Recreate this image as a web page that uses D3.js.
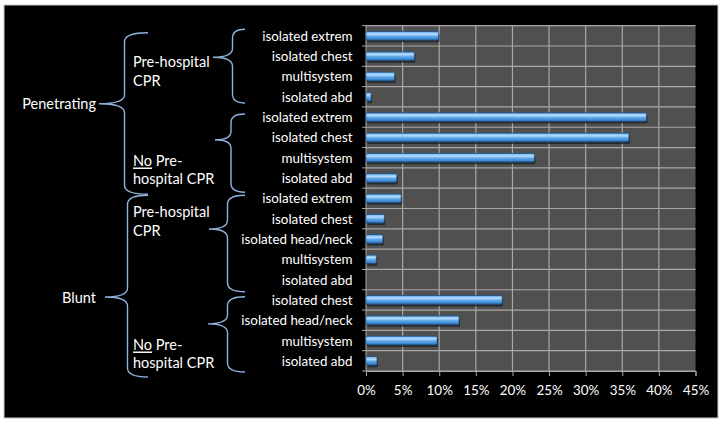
<!DOCTYPE html>
<html>
<head>
<meta charset="utf-8">
<script src="https://cdn.jsdelivr.net/npm/d3@7"></script>
<style>
  html, body { margin: 0; padding: 0; background: #ffffff; }
  svg { display: block; }
  text { font-family: Lato, "Open Sans", sans-serif; fill: #ffffff; }
</style>
</head>
<body>
<script>
// ---- data ----
const categories = [
  "isolated extrem", "isolated chest", "multisystem", "isolated abd",
  "isolated extrem", "isolated chest", "multisystem", "isolated abd",
  "isolated extrem", "isolated chest", "isolated head/neck", "multisystem", "isolated abd",
  "isolated chest", "isolated head/neck", "multisystem", "isolated abd"
];
const values = [9.9, 6.6, 3.9, 0.7, 38.3, 35.9, 23.0, 4.2, 4.8, 2.5, 2.3, 1.4, 0, 18.6, 12.7, 9.7, 1.5];
const xTicks = [0, 5, 10, 15, 20, 25, 30, 35, 40, 45];
const groupLabels = ["Penetrating", "Blunt"];
const groupRows = [[0, 7], [8, 16]];
const subgroupLabels = [["Pre-hospital", "CPR"], ["No Pre-", "hospital CPR"], ["Pre-hospital", "CPR"], ["No Pre-", "hospital CPR"]];
const subgroupRows = [[0, 3], [4, 7], [8, 12], [13, 16]];

// ---- layout ----
const W = 724, H = 425;
const plot = { left: 366, right: 695.5, top: 25.7, bottom: 371 };

const svg = d3.select("body").append("svg").attr("width", W).attr("height", H);

// frame
svg.append("rect").attr("x", 0).attr("y", 0).attr("width", W).attr("height", H).attr("fill", "#ffffff");
svg.append("rect").attr("x", 4).attr("y", 5).attr("width", 714).attr("height", 413)
  .attr("fill", "#000000").attr("stroke", "#c8c8c8").attr("stroke-width", 1);

const x = d3.scaleLinear().domain([0, 45]).range([plot.left, plot.right]);
const y = d3.scaleBand().domain(d3.range(categories.length)).range([plot.top, plot.bottom]).padding(0);
const bw = y.bandwidth();
const barH = bw * 0.44;

// defs
const defs = svg.append("defs");
const grad = defs.append("linearGradient").attr("id", "barGrad")
  .attr("x1", 0).attr("y1", 0).attr("x2", 0).attr("y2", 1);
[[0, "#2b62a0"], [0.14, "#86c4f6"], [0.32, "#b3dcff"], [0.55, "#5fa9ea"], [0.85, "#3c86cf"], [1, "#1f4c80"]]
  .forEach(([o, c]) => grad.append("stop").attr("offset", o).attr("stop-color", c));

// plot background
svg.append("rect").attr("x", plot.left).attr("y", plot.top)
  .attr("width", plot.right - plot.left).attr("height", plot.bottom - plot.top)
  .attr("fill", "#505050");

// gridlines
const grid = svg.append("g").attr("stroke", "#a8a8a8").attr("stroke-width", 1.2);
grid.selectAll("line.v").data(xTicks.filter(t => t > 0 && t < 45)).enter().append("line")
  .attr("x1", d => x(d)).attr("x2", d => x(d))
  .attr("y1", plot.top).attr("y2", plot.bottom);
const hLines = d3.range(categories.length + 1).map(i => plot.top + i * bw);
grid.selectAll("line.h").data(hLines).enter().append("line")
  .attr("x1", plot.left).attr("x2", plot.right)
  .attr("y1", d => d).attr("y2", d => d);

// left axis with ticks at band boundaries
const axisG = svg.append("g").attr("stroke", "#a8a8a8").attr("stroke-width", 1);
axisG.append("line").attr("x1", plot.left).attr("x2", plot.left).attr("y1", plot.top).attr("y2", plot.bottom);
axisG.selectAll("line.lt").data(hLines).enter().append("line")
  .attr("x1", plot.left - 4).attr("x2", plot.left).attr("y1", d => d).attr("y2", d => d);

// bottom axis
const xAxis = d3.axisBottom(x).tickValues(xTicks).tickFormat(d => d + "%").tickSize(5).tickPadding(9);
const xg = svg.append("g").attr("transform", `translate(0,${plot.bottom})`).call(xAxis);
xg.select(".domain").attr("stroke", "#a8a8a8");
xg.selectAll(".tick line").attr("stroke", "#a8a8a8");
xg.selectAll(".tick text").attr("fill", "#ffffff").attr("font-size", 13.4)
  .style("font-family", "Lato, 'Open Sans', sans-serif");

// bars
const bars = svg.append("g");
bars.selectAll("rect.shadow").data(values).enter().append("rect")
  .attr("x", x(0) + 1).attr("y", (d, i) => y(i) + (bw - barH) / 2 + 2)
  .attr("width", d => d > 0 ? Math.max(x(d) - x(0), 2) : 0)
  .attr("height", barH).attr("rx", 1.5)
  .attr("fill", "#1a1a1a").attr("opacity", 0.7);
bars.selectAll("rect.bar").data(values).enter().append("rect")
  .attr("x", x(0)).attr("y", (d, i) => y(i) + (bw - barH) / 2)
  .attr("width", d => d > 0 ? Math.max(x(d) - x(0), 2) : 0)
  .attr("height", barH).attr("rx", 1.5)
  .attr("fill", "url(#barGrad)").attr("stroke", "#1e5088").attr("stroke-width", 0.6);

// category labels
svg.append("g").selectAll("text").data(categories).enter().append("text")
  .attr("x", 352.5).attr("y", (d, i) => y(i) + bw / 2)
  .attr("text-anchor", "end").attr("dominant-baseline", "central")
  .attr("font-size", 13.4).text(d => d);

// braces
function bracePath(x1, xs, xt, top, tip, bot) {
  const r = Math.min(9, (tip - top) / 3, (bot - tip) / 3);
  return `M${x1},${top} Q${xs},${top} ${xs},${top + r}` +
    ` L${xs},${tip - r} Q${xs},${tip} ${xt},${tip}` +
    ` Q${xs},${tip} ${xs},${tip + r}` +
    ` L${xs},${bot - r} Q${xs},${bot} ${x1},${bot}`;
}
const braceColor = "#8fb2dc";
const bg = svg.append("g").attr("fill", "none").attr("stroke", braceColor).attr("stroke-width", 1.4);

// outer group braces: [top offset, bottom offset, tip y fraction, spine x, tip x]
const outerAdj = [[7, 6, 0.44, 124.5, 99], [7, 6, 0.56, 127.5, 105]];
groupRows.forEach((r, i) => {
  const a = outerAdj[i];
  const top = y(r[0]) + a[0], bot = y(r[1]) + bw + a[1];
  const tip = top + (bot - top) * a[2];
  bg.append("path").attr("d", bracePath(148, a[3], a[4], top, tip, bot));
  svg.append("text").attr("x", 96).attr("y", tip).attr("text-anchor", "end")
    .attr("dominant-baseline", "central").attr("font-size", 14.5).text(groupLabels[i]);
});

// inner subgroup braces
const innerAdj = [[3.5, -4, 0.38, 232.5, 213], [7, 4, 0.33, 231, 215], [7, 2, 0.35, 227.5, 209], [7, 1, 0.36, 227.5, 208]];
subgroupRows.forEach((r, i) => {
  const a = innerAdj[i];
  const top = y(r[0]) + a[0], bot = y(r[1]) + bw + a[1];
  const tip = top + (bot - top) * a[2];
  bg.append("path").attr("d", bracePath(245, a[3], a[4], top, tip, bot));
});

// subgroup labels
const subLabelY = [61.5, 159.5, 211.5, 343.5];
subgroupLabels.forEach((lines, i) => {
  lines.forEach((ln, j) => {
    const t = svg.append("text").attr("x", 133).attr("y", subLabelY[i] + j * 19.2)
      .attr("dominant-baseline", "central").attr("font-size", 14.5);
    if (ln.startsWith("No ")) {
      t.append("tspan").style("text-decoration", "underline").text("No");
      t.append("tspan").text(ln.slice(2));
    } else {
      t.text(ln);
    }
  });
});
</script>
</body>
</html>
